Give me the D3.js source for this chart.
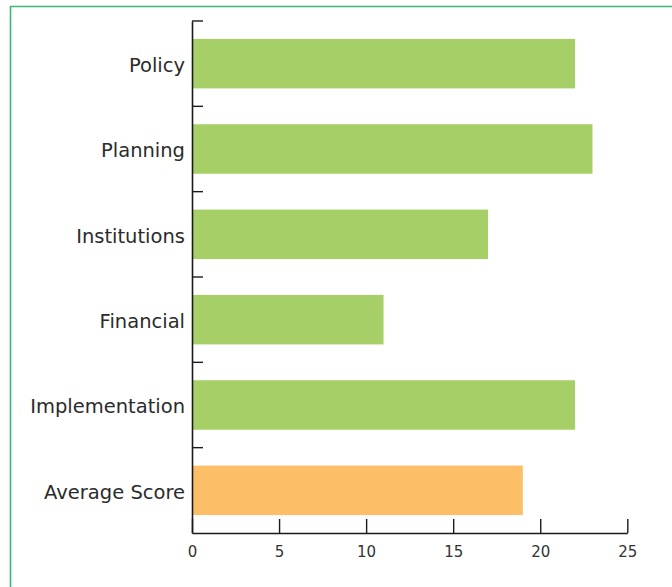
<!DOCTYPE html>
<html>
<head>
<meta charset="utf-8">
<script src="https://cdn.jsdelivr.net/npm/d3@7"></script>
<style>
  html, body { margin: 0; padding: 0; background: #fff; }
  svg { display: block; }
</style>
</head>
<body>
<svg id="chart" width="672" height="587"></svg>
<script>
const categories = ["Policy", "Planning", "Institutions", "Financial", "Implementation", "Average Score"];
const scores = [22, 23, 17, 11, 22, 19];
const barColors = ["#a6cf68", "#a6cf68", "#a6cf68", "#a6cf68", "#a6cf68", "#fcbf68"];
const xTicks = [0, 5, 10, 15, 20, 25];

(function () {
const svg = d3.select("#chart");
const W = 672, H = 587;
const mLeft = 192, mRight = 627.3, mTop = 21, mBottom = 533;

// frame
svg.append("path")
  .attr("d", `M10.5,${H} L10.5,6.5 L${W},6.5`)
  .attr("fill", "none")
  .attr("stroke", "#3cb872")
  .attr("stroke-width", 1.6);

const x = d3.scaleLinear().domain([0, 25]).range([mLeft, mRight]);
const pad = 0.42;
const y = d3.scaleBand().domain(categories).range([mTop, mBottom])
  .paddingInner(pad).paddingOuter(pad / 2);

// bars
svg.append("g").selectAll("rect")
  .data(categories)
  .join("rect")
  .attr("x", x(0))
  .attr("y", d => y(d))
  .attr("width", (d, i) => x(scores[i]) - x(0))
  .attr("height", y.bandwidth())
  .attr("fill", (d, i) => barColors[i]);

// x axis
const xAxis = d3.axisBottom(x).tickValues(xTicks).tickSizeInner(-14).tickSizeOuter(0).tickPadding(13);
const gx = svg.append("g").attr("transform", `translate(0,${mBottom})`).call(xAxis);
gx.select(".domain").attr("stroke", "#1a1a1a").attr("stroke-width", 1.6);
gx.selectAll(".tick line").attr("stroke", "#1a1a1a").attr("stroke-width", 1.4);
gx.selectAll(".tick text")
  .attr("font-family", "DejaVu Sans, sans-serif")
  .attr("font-size", 15)
  .attr("fill", "#333");

// y axis
const yAxis = d3.axisLeft(y).tickSize(0).tickPadding(7);
const gy = svg.append("g").attr("transform", `translate(${mLeft},0)`).call(yAxis);
gy.select(".domain").attr("stroke", "#1a1a1a").attr("stroke-width", 1.6);
gy.selectAll(".tick text")
  .attr("font-family", "DejaVu Sans, sans-serif")
  .attr("font-size", 19.5)
  .attr("dy", "0.42em")
  .attr("fill", "#2b2b2b");

// band boundary ticks (pointing inward)
const bounds = d3.range(categories.length).map(i => mTop + i * y.step());
svg.append("g").selectAll("line")
  .data(bounds)
  .join("line")
  .attr("x1", mLeft)
  .attr("x2", mLeft + 11)
  .attr("y1", d => d)
  .attr("y2", d => d)
  .attr("stroke", "#1a1a1a")
  .attr("stroke-width", 1.4);
})();
</script>
</body>
</html>
